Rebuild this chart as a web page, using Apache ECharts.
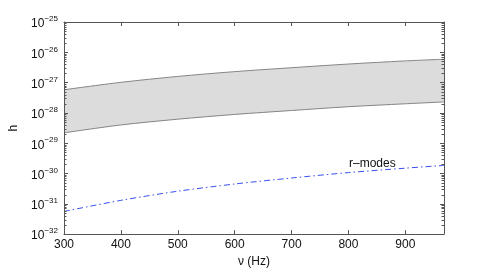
<!DOCTYPE html>
<html>
<head>
<meta charset="utf-8">
<script src="https://cdn.jsdelivr.net/npm/echarts@6.0.0/dist/echarts.min.js"></script>
<style>
  html, body { margin: 0; padding: 0; background: #fff; }
  #chart { width: 491px; height: 273px; }
</style>
</head>
<body>
<div id="chart"></div>
<script>
// 频率 (Hz) 与读图得到的 h 值
const 频率 = [300, 400, 500, 600, 700, 800, 900, 968]
const 上界 = [5.8e-28, 1.02e-27, 1.6e-27, 2.3e-27, 3.1e-27, 4.1e-27, 5.2e-27, 5.9e-27]
const 下界 = [2.2e-29, 4.0e-29, 6.2e-29, 8.9e-29, 1.2e-28, 1.6e-28, 2.0e-28, 2.3e-28]
const r模式 = [5.6e-32, 1.3e-31, 2.6e-31, 4.5e-31, 7.1e-31, 1.07e-30, 1.5e-30, 1.85e-30]
const y指数范围 = [-32, -25]

const 字体 = '"Liberation Sans", Arial, sans-serif'
const 轴色 = '#555'

// y 轴用 log10 值的线性轴来画对数刻度
const 配对 = (值列表) => 频率.map((f, i) => [f, Math.log10(值列表[i])])

const 图表 = echarts.init(document.getElementById('chart'))

const y轴公共 = {
  type: 'value',
  min: y指数范围[0],
  max: y指数范围[1],
  interval: 1,
  z: 10,
  axisLine: { show: true, lineStyle: { color: 轴色, width: 1 } },
  axisTick: { show: true, inside: true, length: 4, lineStyle: { color: 轴色 } },
  splitLine: { show: false },
}

const x轴公共 = {
  type: 'value',
  min: 300,
  max: 968,
  interval: 100,
  z: 10,
  axisLine: { show: true, lineStyle: { color: 轴色 } },
  axisTick: { show: true, inside: true, length: 4, lineStyle: { color: 轴色 } },
  splitLine: { show: false },
}

图表.setOption({
  animation: false,
  textStyle: { fontFamily: 字体 },
  grid: { left: 64, right: 47, top: 22, bottom: 31 },
  xAxis: [
    {
      ...x轴公共,
      position: 'bottom',
      name: 'ν (Hz)',
      nameLocation: 'middle',
      nameGap: 17,
      nameTextStyle: { color: '#111', fontSize: 12, fontFamily: 字体 },
      axisLabel: { color: '#111', fontSize: 12, margin: 5, showMaxLabel: false },
    },
    {
      ...x轴公共,
      position: 'top',
      axisLabel: { show: false },
    },
  ],
  yAxis: [
    {
      ...y轴公共,
      position: 'left',
      name: 'h',
      nameLocation: 'middle',
      nameGap: 38,
      nameRotate: 90,
      nameTextStyle: { color: '#111', fontSize: 12, fontFamily: 字体 },
      axisLabel: {
        margin: 6,
        formatter: (值) => `{b|10}{s|−${Math.abs(值)}}`,
        rich: {
          b: { fontSize: 12, color: '#111', fontFamily: 字体, padding: [4, 0, 0, 0] },
          s: { fontSize: 8, color: '#111', fontFamily: 字体, padding: [0, 0, 6, 0] },
        },
      },
    },
    {
      ...y轴公共,
      position: 'right',
      axisLabel: { show: false },
    },
  ],
  series: [
    {
      name: '上界',
      type: 'line',
      data: 配对(上界),
      symbol: 'none',
      smooth: 0.3,
      lineStyle: { color: '#858585', width: 1 },
      areaStyle: { color: '#dcdcdc', opacity: 1, origin: 'start' },
      z: 2,
    },
    {
      name: '下界',
      type: 'line',
      data: 配对(下界),
      symbol: 'none',
      smooth: 0.3,
      lineStyle: { color: '#858585', width: 1 },
      areaStyle: { color: '#ffffff', opacity: 1, origin: 'start' },
      z: 3,
    },
    {
      name: 'r-modes',
      type: 'line',
      data: 配对(r模式),
      symbol: 'none',
      smooth: 0.3,
      lineStyle: { color: '#3a50f0', width: 1, type: [6, 3, 1.5, 3] },
      z: 4,
    },
  ],
})

// 对数副刻度：每个数量级的 2..9
const 左 = 64
const 右 = 491 - 47
const 元素 = [
  {
    type: 'text',
    x: 349,
    y: 158,
    z: 100,
    style: { text: 'r–modes', fontSize: 12, fill: '#111', fontFamily: 字体 },
  },
]
for (let 指数 = y指数范围[0]; 指数 < y指数范围[1]; 指数 += 1) {
  for (let k = 2; k <= 9; k += 1) {
    const y = Math.round(图表.convertToPixel({ yAxisIndex: 0 }, 指数 + Math.log10(k))) + 0.5
    元素.push({ type: 'line', z: 100, shape: { x1: 左, y1: y, x2: 左 + 2.5, y2: y }, style: { stroke: 轴色, lineWidth: 1 } })
    元素.push({ type: 'line', z: 100, shape: { x1: 右 - 2.5, y1: y, x2: 右, y2: y }, style: { stroke: 轴色, lineWidth: 1 } })
  }
}
图表.setOption({ graphic: 元素 })
</script>
</body>
</html>
